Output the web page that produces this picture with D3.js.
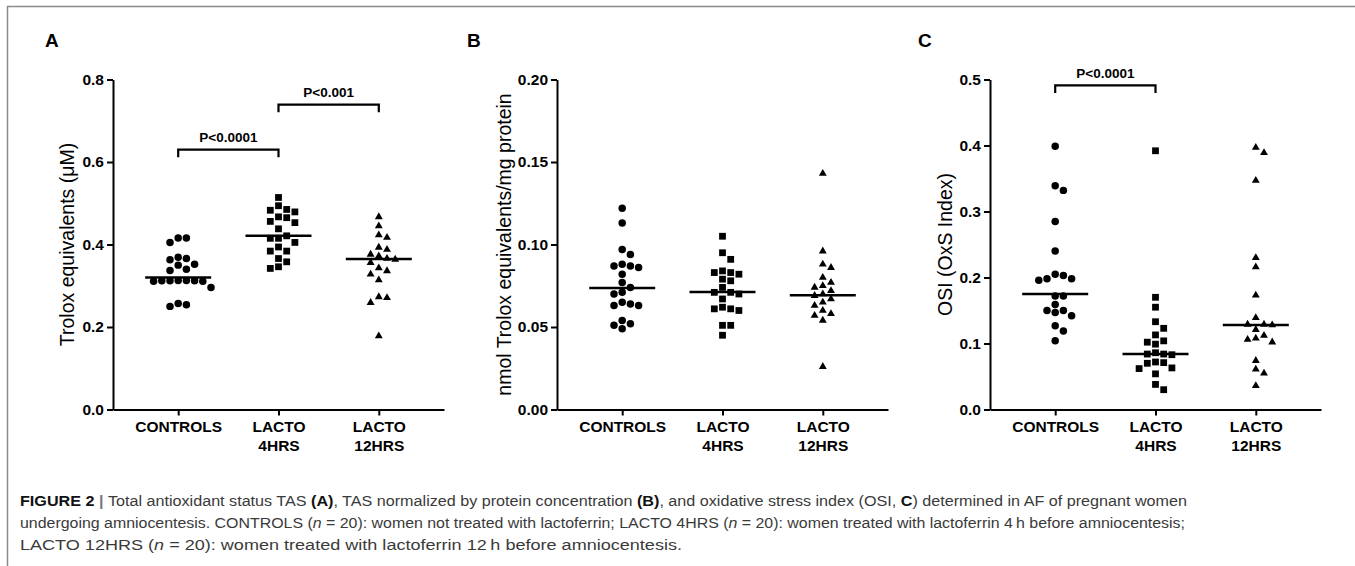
<!DOCTYPE html>
<html>
<head>
<meta charset="utf-8">
<script src="https://cdn.jsdelivr.net/npm/d3@7"></script>
<style>
  body { margin: 0; background: #fff; }
  svg text { font-family: 'Liberation Sans', Arial, sans-serif; }
</style>
</head>
<body>
<div id="chart-area"></div>
<script>
// groups on the x axis (two-line labels as printed)
const categories = ['CONTROLS', 'LACTO 4HRS', 'LACTO 12HRS'];
const categoryLines = [['CONTROLS'], ['LACTO', '4HRS'], ['LACTO', '12HRS']];

// A - TAS, Trolox equivalents (uM)
const tasControls = [0.416, 0.416, 0.405, 0.369, 0.366, 0.363, 0.352, 0.350, 0.340, 0.337,
  0.313, 0.313, 0.312, 0.312, 0.312, 0.311, 0.311, 0.296, 0.257, 0.254, 0.250];
const tas4h = [0.514, 0.494, 0.485, 0.483, 0.479, 0.467, 0.465, 0.456, 0.453, 0.438, 0.421,
  0.415, 0.415, 0.405, 0.394, 0.384, 0.384, 0.366, 0.358, 0.346, 0.342];
const tas12h = [0.467, 0.445, 0.423, 0.417, 0.393, 0.388, 0.376, 0.372, 0.366, 0.364, 0.356,
  0.343, 0.336, 0.328, 0.314, 0.273, 0.271, 0.259, 0.178];
const tasLines = [0.320, 0.421, 0.365];
const tasTicks = [0, 0.2, 0.4, 0.6, 0.8];
const tasComparisons = [
  { a: 'CONTROLS', b: 'LACTO 4HRS', value: 0.630, label: 'P<0.0001' },
  { a: 'LACTO 4HRS', b: 'LACTO 12HRS', value: 0.739, label: 'P<0.001' }
];

// B - TAS normalized by protein
const protControls = [0.122, 0.113, 0.097, 0.094, 0.088, 0.087, 0.087, 0.086, 0.082, 0.077,
  0.074, 0.071, 0.070, 0.065, 0.064, 0.063, 0.063, 0.054, 0.052, 0.051, 0.049];
const prot4h = [0.105, 0.095, 0.091, 0.084, 0.083, 0.083, 0.082, 0.079, 0.078, 0.074, 0.071,
  0.071, 0.070, 0.067, 0.062, 0.061, 0.061, 0.060, 0.051, 0.051, 0.045];
const prot12h = [0.143, 0.096, 0.088, 0.086, 0.080, 0.077, 0.075, 0.074, 0.072, 0.070, 0.069,
  0.067, 0.065, 0.063, 0.060, 0.058, 0.057, 0.054, 0.026];
const protLines = [0.0737, 0.0712, 0.0692];
const protTicks = [0, 0.05, 0.10, 0.15, 0.20];

// C - OSI
const osiControls = [0.399, 0.339, 0.332, 0.285, 0.240, 0.205, 0.203, 0.198, 0.198, 0.196,
  0.172, 0.172, 0.159, 0.150, 0.150, 0.147, 0.142, 0.127, 0.119, 0.104];
const osi4h = [0.392, 0.170, 0.155, 0.133, 0.123, 0.113, 0.104, 0.102, 0.099, 0.086, 0.084,
  0.084, 0.083, 0.072, 0.071, 0.070, 0.063, 0.062, 0.054, 0.038, 0.030];
const osi12h = [0.397, 0.389, 0.347, 0.230, 0.216, 0.173, 0.139, 0.129, 0.129, 0.128, 0.121,
  0.112, 0.108, 0.106, 0.102, 0.074, 0.061, 0.055, 0.036];
const osiLines = [0.175, 0.084, 0.128];
const osiTicks = [0, 0.1, 0.2, 0.3, 0.4, 0.5];
const osiComparisons = [
  { a: 'CONTROLS', b: 'LACTO 4HRS', value: 0.491, label: 'P<0.0001' }
];

const width = 1355;
const height = 566;
const plotTop = 79.5, plotBottom = 409.5;

const svg = d3.select('#chart-area').append('svg')
  .attr('width', width)
  .attr('height', height);

// page frame (top + left rule)
svg.append('path')
  .attr('d', `M7.5,${height} V6.5 H${width}`)
  .attr('fill', 'none')
  .attr('stroke', '#8a8a8a')
  .attr('stroke-width', 1.5);

const symbols = [d3.symbolCircle, d3.symbolSquare, d3.symbolTriangle];
const symbolSizes = [44, 46, 27];

// simple grid beeswarm: same column points must be `gap` px apart vertically
function dodge(values, y, gap) {
  const placed = [];
  values.map(v => ({ v }))
    .sort((p, q) => q.v - p.v)
    .forEach(d => {
      d.y = y(d.v);
      for (let k = 0; ; k++) {
        const col = k === 0 ? 0 : (k % 2 ? (k + 1) / 2 : -k / 2);
        if (!placed.some(p => p.col === col && Math.abs(p.y - d.y) < gap)) {
          d.col = col;
          break;
        }
      }
      placed.push(d);
    });
  return placed;
}

function panel(opt) {
  const g = svg.append('g');

  const x = d3.scalePoint()
    .domain(categories)
    .range([opt.left, opt.left + 331])
    .padding(0.65);

  const y = d3.scaleLinear()
    .domain([0, d3.max(opt.ticks)])
    .range([plotBottom, plotTop]);

  // y axis
  const yAxis = g.append('g')
    .attr('transform', `translate(${opt.left},0)`)
    .call(d3.axisLeft(y).tickValues(opt.ticks).tickFormat(d3.format(opt.format))
      .tickSize(6).tickSizeOuter(0).tickPadding(3));
  yAxis.selectAll('text')
    .attr('font-size', 15.5)
    .attr('font-weight', 'bold')
    .attr('fill', '#000');

  // x axis
  const xAxis = g.append('g')
    .attr('transform', `translate(0,${plotBottom})`)
    .call(d3.axisBottom(x).tickSize(6).tickSizeOuter(0));
  xAxis.selectAll('text').remove();
  xAxis.selectAll('.tick')
    .append('text')
      .attr('text-anchor', 'middle')
      .attr('font-size', 15.5)
      .attr('font-weight', 'bold')
      .attr('fill', '#000')
      .selectAll('tspan')
      .data((d, i) => categoryLines[i])
      .join('tspan')
        .attr('x', 0)
        .attr('y', (d, i) => 22.5 + i * 18.7)
        .text(d => d);

  g.selectAll('.domain, .tick line')
    .attr('stroke', '#000')
    .attr('stroke-width', 2);

  // axis title
  g.append('text')
    .attr('transform', `translate(${opt.titleX},${(plotTop + plotBottom) / 2}) rotate(-90)`)
    .attr('text-anchor', 'middle')
    .attr('font-size', 19.5)
    .attr('fill', '#000')
    .text(opt.title);

  // panel letter
  g.append('text')
    .attr('x', opt.letterX)
    .attr('y', 47)
    .attr('font-size', 19)
    .attr('font-weight', 'bold')
    .text(opt.letter);

  // points
  opt.series.forEach((values, i) => {
    const pts = dodge(values, y, 7.5);
    g.append('g').selectAll('path')
      .data(pts)
      .join('path')
        .attr('transform', d => `translate(${x(categories[i]) + d.col * 8.2},${d.y})`)
        .attr('d', d3.symbol(symbols[i], symbolSizes[i]))
        .attr('fill', '#000');
  });

  // central lines
  g.append('g').selectAll('line')
    .data(opt.lines)
    .join('line')
      .attr('x1', (d, i) => x(categories[i]) - 33)
      .attr('x2', (d, i) => x(categories[i]) + 33)
      .attr('y1', d => y(d))
      .attr('y2', d => y(d))
      .attr('stroke', '#000')
      .attr('stroke-width', 2.5);

  // significance brackets
  (opt.comparisons || []).forEach(c => {
    const yy = y(c.value);
    g.append('path')
      .attr('d', `M${x(c.a)},${yy + 7.5} V${yy} H${x(c.b)} V${yy + 7.5}`)
      .attr('fill', 'none')
      .attr('stroke', '#000')
      .attr('stroke-width', 2.2);
    g.append('text')
      .attr('x', (x(c.a) + x(c.b)) / 2)
      .attr('y', yy - 7.6)
      .attr('text-anchor', 'middle')
      .attr('font-size', 13.5)
      .attr('font-weight', 'bold')
      .text(c.label);
  });
}

panel({
  left: 113, letter: 'A', letterX: 45, titleX: 73.5,
  title: 'Trolox equivalents (\u03bcM)',
  ticks: tasTicks, format: '.1f',
  series: [tasControls, tas4h, tas12h], lines: tasLines,
  comparisons: tasComparisons
});

panel({
  left: 557, letter: 'B', letterX: 467, titleX: 511,
  title: 'nmol Trolox equivalents/mg protein',
  ticks: protTicks, format: '.2f',
  series: [protControls, prot4h, prot12h], lines: protLines
});

panel({
  left: 990, letter: 'C', letterX: 918, titleX: 951.5,
  title: 'OSI (OxS Index)',
  ticks: osiTicks, format: '.1f',
  series: [osiControls, osi4h, osi12h], lines: osiLines,
  comparisons: osiComparisons
});

// caption
const caption = [
  { len: 1167, parts: [
    { t: 'FIGURE 2', b: true, c: '#111' }, { t: ' | ', b: true, c: '#777' },
    { t: 'Total antioxidant status TAS ' }, { t: '(A)', b: true, c: '#111' },
    { t: ', TAS normalized by protein concentration ' }, { t: '(B)', b: true, c: '#111' },
    { t: ', and oxidative stress index (OSI, ' }, { t: 'C', b: true, c: '#111' },
    { t: ') determined in AF of pregnant women' }] },
  { len: 1165, parts: [
    { t: 'undergoing amniocentesis. CONTROLS (' }, { t: 'n', i: true }, { t: ' = 20): women not treated with lactoferrin; LACTO 4HRS (' },
    { t: 'n', i: true }, { t: ' = 20): women treated with lactoferrin 4\u2009h before amniocentesis;' }] },
  { len: 662, parts: [
    { t: 'LACTO 12HRS (' }, { t: 'n', i: true }, { t: ' = 20): women treated with lactoferrin 12\u2009h before amniocentesis.' }] }
];

const cap = svg.append('g');
caption.forEach((line, i) => {
  const t = cap.append('text')
    .attr('x', 20)
    .attr('y', 506 + i * 22)
    .attr('font-size', 14)
    .attr('fill', '#3a3a3a')
    .attr('textLength', line.len)
    .attr('lengthAdjust', 'spacingAndGlyphs');
  t.selectAll('tspan')
    .data(line.parts)
    .join('tspan')
      .attr('font-weight', d => d.b ? 'bold' : null)
      .attr('font-style', d => d.i ? 'italic' : null)
      .attr('fill', d => d.c || null)
      .text(d => d.t);
});
</script>
</body>
</html>
